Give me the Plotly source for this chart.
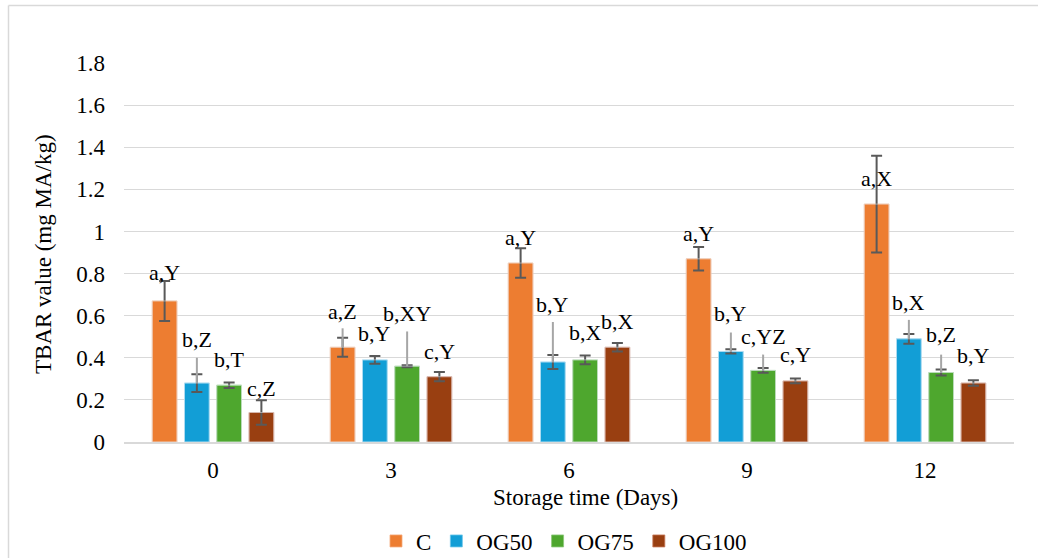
import plotly.graph_objects as go

# ---------------- data ----------------
days = ["0", "3", "6", "9", "12"]
series_names = ["C", "OG50", "OG75", "OG100"]

c_vals = [0.67, 0.45, 0.85, 0.87, 1.13]
og50_vals = [0.28, 0.39, 0.38, 0.43, 0.49]
og75_vals = [0.27, 0.36, 0.39, 0.34, 0.33]
og100_vals = [0.14, 0.31, 0.45, 0.29, 0.28]

c_err = [0.095, 0.045, 0.07, 0.056, 0.23]
og50_err = [0.042, 0.018, 0.033, 0.01, 0.023]
og75_err = [0.013, 0.005, 0.021, 0.011, 0.014]
og100_err = [0.058, 0.022, 0.02, 0.011, 0.013]

# upper ends of the light-grey whiskers (None = no whisker)
c_ext = [None, 0.54, None, None, None]
og50_ext = [0.40, None, 0.57, 0.52, 0.58]
og75_ext = [None, 0.525, None, 0.415, 0.415]
og100_ext = [None, None, None, None, None]

c_labels = ["a,Y", "a,Z", "a,Y", "a,Y", "a,X"]
og50_labels = ["b,Z", "b,Y", "b,Y", "b,Y", "b,X"]
og75_labels = ["b,T", "b,XY", "b,X", "c,YZ", "b,Z"]
og100_labels = ["c,Z", "c,Y", "b,X", "c,Y", "b,Y"]

# ---------------- styling ----------------
colors = ["rgb(237,125,49)", "rgb(18,158,214)", "rgb(78,167,46)", "rgb(153,63,17)"]
edge_colors = ["rgb(245,170,120)", "rgb(110,200,235)", "rgb(140,200,120)", "rgb(200,120,90)"]
label_shift = [  # px above bar top (label centre)
    [26, 34, 24, 23, 24],
    [42, 24, 55, 36, 34],
    [24, 51, 25, 32, 36],
    [22, 23, 24, 24, 26],
]
FONT = "Liberation Serif, Times New Roman, serif"
FS = 22
W, H = 1038, 558
ML, MR, MT, MB = 124, 24, 63, 116
BARGAP, GROUPGAP = 0.275, 0.234

vals = [c_vals, og50_vals, og75_vals, og100_vals]
errs = [c_err, og50_err, og75_err, og100_err]
exts = [c_ext, og50_ext, og75_ext, og100_ext]
labels = [c_labels, og50_labels, og75_labels, og100_labels]

fig = go.Figure()
for j, name in enumerate(series_names):
    fig.add_trace(go.Bar(
        x=days, y=vals[j], name=name, offsetgroup=name,
        marker=dict(color=colors[j], line=dict(color=edge_colors[j], width=0.8)),
        error_y=dict(type="data", array=errs[j], symmetric=True,
                     color="#595959", thickness=2, width=5.5),
    ))
for j, name in enumerate(series_names):
    plus = [(e - v) if e is not None else 0 for e, v in zip(exts[j], vals[j])]
    fig.add_trace(go.Bar(
        x=days, y=vals[j], name=name + "_ext", offsetgroup=name,
        showlegend=False, hoverinfo="skip",
        marker=dict(color="rgba(0,0,0,0)"),
        error_y=dict(type="data", array=plus, arrayminus=[0] * len(plus), symmetric=False,
                     color="#a6a6a6", thickness=2, width=0),
    ))

slot = (1 - BARGAP) / len(series_names)
annotations = []
for j in range(len(series_names)):
    for i in range(len(days)):
        annotations.append(dict(
            x=i + (j - 1.5) * slot, y=vals[j][i], xref="x", yref="y",
            text=labels[j][i], showarrow=False, yanchor="middle", xanchor="center",
            yshift=label_shift[j][i] + 2, font=dict(family=FONT, size=FS, color="black"),
        ))

pw = W - ML - MR
ph = H - MT - MB
def px_x(p):
    return (p - ML) / pw
def px_y(p):
    return 1 - (p - MT) / ph

annotations.append(dict(x=px_x(585.5), y=px_y(497), xref="paper", yref="paper",
                        text="Storage time (Days)", showarrow=False,
                        xanchor="center", yanchor="middle",
                        font=dict(family=FONT, size=FS + 1, color="black")))
annotations.append(dict(x=px_x(43), y=px_y(254), xref="paper", yref="paper",
                        text="TBAR value (mg MA/kg)", showarrow=False, textangle=-90,
                        xanchor="center", yanchor="middle",
                        font=dict(family=FONT, size=FS + 1, color="black")))

shapes = [
    dict(type="line", xref="paper", yref="paper", x0=px_x(8.5), x1=px_x(8.5),
         y0=px_y(5.5), y1=px_y(H), line=dict(color="#d9d9d9", width=1.5)),
    dict(type="line", xref="paper", yref="paper", x0=px_x(8.5), x1=px_x(W),
         y0=px_y(5.5), y1=px_y(5.5), line=dict(color="#d9d9d9", width=1.5)),
]

fig.update_layout(
    width=W, height=H,
    margin=dict(l=ML, r=MR, t=MT, b=MB, pad=0, autoexpand=False),
    paper_bgcolor="white", plot_bgcolor="white",
    barmode="group", bargap=BARGAP, bargroupgap=GROUPGAP,
    font=dict(family=FONT, size=FS, color="black"),
    showlegend=True,
    legend=dict(orientation="h", x=px_x(564), xanchor="center", y=px_y(541), yanchor="middle",
                font=dict(family=FONT, size=FS + 1, color="black"), itemwidth=30,
                traceorder="normal", tracegroupgap=0),
    annotations=annotations, shapes=shapes,
)
fig.update_xaxes(type="category", showgrid=False, showline=True, linecolor="#d9d9d9",
                 linewidth=2, ticks="", ticklabelstandoff=6, automargin=False,
                 tickfont=dict(family=FONT, size=FS + 1, color="black"))
fig.update_yaxes(range=[0, 1.8], dtick=0.2, tick0=0, showgrid=True, gridcolor="#d9d9d9",
                 gridwidth=1.3, zeroline=False, showline=False, ticks="",
                 ticklabelstandoff=18, automargin=False,
                 tickfont=dict(family=FONT, size=FS + 1, color="black"))

fig.write_html("out.html")
